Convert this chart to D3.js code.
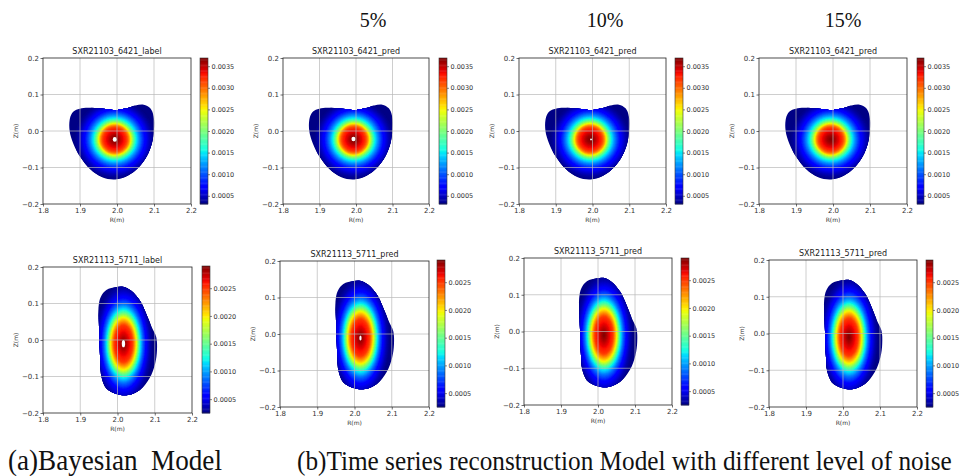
<!DOCTYPE html>
<html><head><meta charset="utf-8">
<script src="https://cdn.jsdelivr.net/npm/d3@7"></script>
<style>body{margin:0;background:#fff;overflow:hidden}</style>
</head><body>
<svg id="fig" width="970" height="476"></svg>
<script>
// ---------------- DATA ----------------
const noiseLabels = ["5%", "10%", "15%"];
const topTitles = ["SXR21103_6421_label", "SXR21103_6421_pred", "SXR21103_6421_pred", "SXR21103_6421_pred"];
const bottomTitles = ["SXR21113_5711_label", "SXR21113_5711_pred", "SXR21113_5711_pred", "SXR21113_5711_pred"];
const captionA = "(a)Bayesian\u00a0 Model";
const captionB = "(b)Time series reconstruction Model with different level of noise";
const xTicks = [1.8, 1.9, 2.0, 2.1, 2.2];
const yTicks = [-0.2, -0.1, 0.0, 0.1, 0.2];
const topCbTicks = [0.0005, 0.0010, 0.0015, 0.0020, 0.0025, 0.0030, 0.0035];
const bottomCbTicks = [0.0005, 0.0010, 0.0015, 0.0020, 0.0025];
const topRange = [0.00031, 0.00369];
const bottomRange = [0.00025, 0.0029];

// plasma boundary (R, Z) in metres
const topBoundaryR = [1.872, 1.878, 1.890, 1.910, 1.940, 1.970, 1.998, 2.025, 2.050, 2.072, 2.090, 2.099, 2.100, 2.094, 2.080, 2.058, 2.030, 1.995, 1.960, 1.928, 1.900, 1.882, 1.872];
const topBoundaryZ = [0.030, 0.048, 0.058, 0.063, 0.063, 0.060, 0.057, 0.062, 0.070, 0.072, 0.062, 0.040, 0.005, -0.035, -0.070, -0.100, -0.122, -0.133, -0.127, -0.105, -0.070, -0.035, 0.000];
const bottomBoundaryR = [1.997, 1.970, 1.955, 1.949, 1.950, 1.952, 1.954, 1.957, 1.970, 1.997, 2.028, 2.060, 2.086, 2.101, 2.106, 2.104, 2.092, 2.077, 2.060, 2.037, 2.015];
const bottomBoundaryZ = [0.145, 0.137, 0.118, 0.090, 0.045, -0.010, -0.065, -0.101, -0.133, -0.148, -0.151, -0.137, -0.105, -0.065, -0.028, 0.008, 0.035, 0.072, 0.108, 0.135, 0.146];

// emission centre and radial profile (normalised radius -> emissivity)
const topCentre = [1.994, -0.023];
const topRadii = [0.093, 0.093];
const topRho = [0, 0.1, 0.2, 0.3, 0.35, 0.4, 0.45, 0.5, 0.55, 0.6, 0.7, 0.8, 0.9, 1.0, 1.1, 1.2];
const topProfile = [0.00369, 0.00359, 0.00342, 0.00325, 0.00312, 0.00288, 0.00254, 0.00217, 0.00186, 0.00159, 0.00122, 0.00092, 0.00068, 0.00051, 0.00038, 0.00031];
const bottomCentre = [2.016, -0.010];
const bottomRadii = [0.047, 0.099];
const bottomRho = [0, 0.15, 0.3, 0.5, 0.6, 0.72, 0.82, 0.94, 1.08, 1.3, 1.5, 1.7];
const bottomProfile = [0.0029, 0.00279, 0.00266, 0.00250, 0.00226, 0.00195, 0.00158, 0.00120, 0.00089, 0.00054, 0.00036, 0.00025];

// white saturated spots at the core: [R, Z, halfWidthR, halfHeightZ]
const topSpots = [[1.994, -0.023, 0.0055, 0.0065], [1.993, -0.022, 0.0055, 0.006], [1.996, -0.023, 0.0025, 0.0025], null];
const bottomSpots = [[2.016, -0.010, 0.0045, 0.010], [2.016, -0.011, 0.003, 0.007], null, null];

// ---------------- LAYOUT ----------------
const topPlots = [[43,191,58,204],[283,429,58,204],[519,666,58,204],[759,907,58,204]];
const topBars  = [[200,208,58,204],[439,447,58,204],[675,683,58,204],[917,924,58,204]];
const botPlots = [[43,192,267,413],[280,429,261,407],[524,672,258,405],[769,917,260,407]];
const botBars  = [[202,210,266,413],[437,445,260,407],[681,689,258,405],[926,933,260,407]];
const noiseX = [373, 605, 843];

const svg = d3.select("#fig");
const sans = "DejaVu Sans, sans-serif";
const serif = "Liberation Serif, Times New Roman, serif";

// jet colormap
const jr = d3.scaleLinear([0,0.35,0.66,0.89,1],[0,0,1,1,0.5]).clamp(true);
const jg = d3.scaleLinear([0,0.125,0.375,0.64,0.91,1],[0,0,1,1,0,0]).clamp(true);
const jb = d3.scaleLinear([0,0.11,0.34,0.65,1],[0.5,1,1,0,0]).clamp(true);
const jet = t => d3.rgb(jr(t)*255, jg(t)*255, jb(t)*255).toString();

const step = 0.002, Rmin = 1.8, Zmin = -0.2, N = 201;
function field(centre, radii, rho, prof) {
  const f = d3.scaleLinear(rho, prof).clamp(true);
  const v = new Float64Array(N*N);
  for (let j=0;j<N;j++) for (let i=0;i<N;i++) {
    const R = Rmin + i*step, Z = Zmin + j*step;
    const r = Math.hypot((R-centre[0])/radii[0], (Z-centre[1])/radii[1]);
    v[i + j*N] = f(r);
  }
  return v;
}
const topField = field(topCentre, topRadii, topRho, topProfile);
const botField = field(bottomCentre, bottomRadii, bottomRho, bottomProfile);

let clipId = 0;
function panel(box, bar, title, values, range, cbTicks, bR, bZ, spot) {
  const [x0,x1,y0,y1] = box;
  const xs = d3.scaleLinear([1.8,2.2],[x0,x1]);
  const ys = d3.scaleLinear([-0.2,0.2],[y1,y0]);
  const g = svg.append("g");
  const id = "clip" + (clipId++);
  const pts = bR.map((r,i)=>[xs(r), ys(bZ[i])]);
  const bline = d3.line().curve(d3.curveCatmullRomClosed.alpha(0.5));
  g.append("clipPath").attr("id", id).append("path").attr("d", bline(pts));

  const cs = d3.scaleLinear(range, [0,1]);
  const nb = 110;
  const thr = d3.range(nb).map(k => range[0] + (range[1]-range[0])*k/nb);
  thr[0] = -1;
  const conts = d3.contours().size([N,N]).thresholds(thr)(values);
  const proj = d3.geoTransform({point(x,y){ this.stream.point(xs(Rmin + (x-0.5)*step), ys(Zmin + (y-0.5)*step)); }});
  const gp = d3.geoPath(proj);
  const img = g.append("g").attr("clip-path", `url(#${id})`);
  const bandColor = k => jet(cs(range[0] + (range[1]-range[0])*(k+0.5)/nb));
  img.selectAll("path").data(conts).join("path")
    .attr("d", gp)
    .attr("fill", (c,k) => bandColor(k))
    .attr("stroke", (c,k) => bandColor(k))
    .attr("stroke-width", 0.3);
  if (spot) {
    img.append("ellipse").attr("cx", xs(spot[0])).attr("cy", ys(spot[1]))
      .attr("rx", xs(spot[0]+spot[2]) - xs(spot[0])).attr("ry", ys(spot[1]) - ys(spot[1]+spot[3]))
      .attr("fill", "#fff");
  }
  // grid
  g.append("g").selectAll("line").data(xTicks.slice(1,-1)).join("line")
    .attr("x1", d=>xs(d)).attr("x2", d=>xs(d)).attr("y1", y0).attr("y2", y1)
    .attr("stroke", "#b8b8b8").attr("stroke-width", 0.8).attr("opacity", 0.85);
  g.append("g").selectAll("line").data(yTicks.slice(1,-1)).join("line")
    .attr("y1", d=>ys(d)).attr("y2", d=>ys(d)).attr("x1", x0).attr("x2", x1)
    .attr("stroke", "#b8b8b8").attr("stroke-width", 0.8).attr("opacity", 0.85);
  // axes
  const fmt = d => (d<0 ? "\u2212" : "") + Math.abs(d).toFixed(1);
  const ax = g.append("g").attr("transform", `translate(0,${y1})`)
    .call(d3.axisBottom(xs).tickValues(xTicks).tickFormat(d=>d.toFixed(1)).tickSize(2.5).tickPadding(1.5));
  const ay = g.append("g").attr("transform", `translate(${x0},0)`)
    .call(d3.axisLeft(ys).tickValues(yTicks).tickFormat(fmt).tickSize(2.5).tickPadding(1.5));
  [ax, ay].forEach(a => {
    a.select(".domain").remove();
    a.selectAll("text").attr("font-family", sans).attr("font-size", 7).attr("fill", "#333");
    a.selectAll("line").attr("stroke", "#333").attr("stroke-width", 0.7);
  });
  g.append("rect").attr("x", x0).attr("y", y0).attr("width", x1-x0).attr("height", y1-y0)
    .attr("fill", "none").attr("stroke", "#222").attr("stroke-width", 0.8);
  g.append("text").attr("x", (x0+x1)/2).attr("y", y0-4).attr("text-anchor", "middle")
    .attr("font-family", sans).attr("font-size", 8).attr("fill", "#222").text(title);
  g.append("text").attr("x", (x0+x1)/2).attr("y", y1+18).attr("text-anchor", "middle")
    .attr("font-family", sans).attr("font-size", 6).attr("fill", "#333").text("R(m)");
  g.append("text").attr("transform", `translate(${x0-25},${(y0+y1)/2}) rotate(-90)`).attr("text-anchor", "middle")
    .attr("font-family", sans).attr("font-size", 6).attr("fill", "#333").text("Z(m)");

  // colorbar
  const [bx0,bx1,by0,by1] = bar;
  const cy = d3.scaleLinear(range, [by1, by0]);
  const ns = 120;
  const cb = g.append("g");
  cb.selectAll("rect").data(d3.range(ns)).join("rect")
    .attr("x", bx0).attr("width", bx1-bx0)
    .attr("y", k => cy(range[0] + (range[1]-range[0])*(k+1)/ns))
    .attr("height", k => cy(range[0] + (range[1]-range[0])*k/ns) - cy(range[0] + (range[1]-range[0])*(k+1)/ns) + 0.4)
    .attr("fill", k => jet((k+0.5)/ns));
  cb.append("rect").attr("x", bx0).attr("y", by0).attr("width", bx1-bx0).attr("height", by1-by0)
    .attr("fill", "none").attr("stroke", "#333").attr("stroke-width", 0.6);
  const ac = cb.append("g").attr("transform", `translate(${bx1},0)`)
    .call(d3.axisRight(cy).tickValues(cbTicks).tickFormat(d3.format(".4f")).tickSize(2).tickPadding(1.5));
  ac.select(".domain").remove();
  ac.selectAll("text").attr("font-family", sans).attr("font-size", 6.5).attr("fill", "#333");
  ac.selectAll("line").attr("stroke", "#333").attr("stroke-width", 0.6);
}

topPlots.forEach((b,i) => panel(b, topBars[i], topTitles[i], topField, topRange, topCbTicks, topBoundaryR, topBoundaryZ, topSpots[i]));
botPlots.forEach((b,i) => panel(b, botBars[i], bottomTitles[i], botField, bottomRange, bottomCbTicks, bottomBoundaryR, bottomBoundaryZ, bottomSpots[i]));

// headings
svg.selectAll("text.noise").data(noiseLabels).join("text").attr("class","noise")
  .attr("x", (d,i)=>noiseX[i]).attr("y", 27).attr("text-anchor", "middle")
  .attr("font-family", serif).attr("font-size", 20).attr("fill", "#111").text(d=>d);

function caption(txt, x, width) {
  const t = svg.append("text").attr("x", 0).attr("y", 0).attr("font-family", serif).attr("font-size", 27)
    .attr("fill", "#111").attr("xml:space","preserve").text(txt);
  const len = t.node().getComputedTextLength();
  const fs = 27 * width / len;
  t.attr("font-size", fs).attr("transform", `translate(${x},470) scale(1,1.1)`);
}
caption(captionA, 8, 214);
caption(captionB, 297, 655);
</script>
</body></html>
